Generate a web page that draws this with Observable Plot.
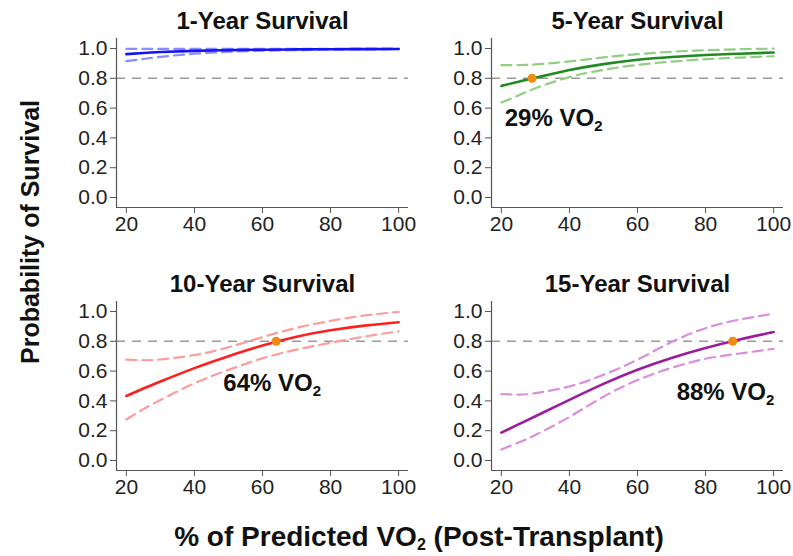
<!DOCTYPE html>
<html>
<head>
<meta charset="utf-8">
<script src="https://cdn.jsdelivr.net/npm/d3@7"></script>
<script src="https://cdn.jsdelivr.net/npm/@observablehq/plot@0.6"></script>
<style>
  body { margin: 0; background: #fff; }
  #fig { position: relative; width: 793px; height: 556px; background: #fff; font-family: "Liberation Sans", Arial, Helvetica, sans-serif; overflow: hidden; }
  #fig .panel { position: absolute; }
  #ylab { position: absolute; left: 30px; top: 232px; transform: translate(-50%, -50%) rotate(-90deg); font-weight: bold; font-size: 25px; white-space: nowrap; color: #111; }
  #xlab { position: absolute; left: 419px; top: 537px; transform: translate(-50%, -50%); font-weight: bold; font-size: 28px; line-height: 30px; white-space: nowrap; color: #111; }
  #xlab sub { font-size: 16px; vertical-align: -4px; line-height: 0; }
</style>
</head>
<body>
<div id="fig">
  <div id="ylab">Probability of Survival</div>
  <div id="xlab">% of Predicted VO<sub>2</sub> (Post-Transplant)</div>
</div>
<script>
// ---- data ----
const vo2 = [20, 25, 30, 40, 50, 60, 70, 80, 90, 100];
const xTicks = [20, 40, 60, 80, 100];
const yTicks = [0, 0.2, 0.4, 0.6, 0.8, 1.0];
const threshold = 0.8;

const titles = ["1-Year Survival", "5-Year Survival", "10-Year Survival", "15-Year Survival"];

const fit1 = [0.962, 0.970, 0.976, 0.984, 0.989, 0.992, 0.994, 0.995, 0.996, 0.997];
const hi1  = [0.997, 0.997, 0.997, 0.997, 0.998, 0.998, 0.998, 0.998, 0.999, 0.999];
const lo1  = [0.915, 0.930, 0.944, 0.965, 0.978, 0.985, 0.989, 0.992, 0.994, 0.995];

const fit5 = [0.749, 0.777, 0.803, 0.855, 0.895, 0.924, 0.943, 0.956, 0.965, 0.973];
const hi5  = [0.888, 0.889, 0.893, 0.913, 0.940, 0.962, 0.978, 0.988, 0.995, 0.999];
const lo5  = [0.638, 0.685, 0.733, 0.808, 0.857, 0.890, 0.912, 0.928, 0.939, 0.948];

const fit10 = [0.433, 0.483, 0.530, 0.620, 0.700, 0.772, 0.831, 0.874, 0.905, 0.928];
const hi10  = [0.677, 0.673, 0.678, 0.708, 0.760, 0.828, 0.890, 0.937, 0.973, 0.997];
const lo10  = [0.275, 0.345, 0.406, 0.518, 0.608, 0.686, 0.744, 0.790, 0.832, 0.867];

const fit15 = [0.187, 0.242, 0.297, 0.407, 0.514, 0.609, 0.688, 0.755, 0.812, 0.862];
const hi15  = [0.446, 0.442, 0.452, 0.497, 0.575, 0.677, 0.795, 0.888, 0.946, 0.985];
const lo15  = [0.074, 0.120, 0.171, 0.293, 0.428, 0.540, 0.621, 0.683, 0.718, 0.750];

const cutoffs = [null, 29, 64, 88];
const cutoffLabels = [null, "29% VO2", "64% VO2", "88% VO2"];
const labelX = [null, 21, 48.5, 71.5];
const labelY = [null, 0.53, 0.52, 0.46];

// ---- styling ----
const mainColors  = ["#1414f5", "#1f8c22", "#ff1f1f", "#9b1c9f"];
const lightColors = ["#8c8cff", "#90cf82", "#ff9b9b", "#da8fdc"];
const dotColor = "#f08a10";
const xDomain = [17.1, 102.9];
const yDomain = [-0.067, 1.067];

const series = [[fit1, lo1, hi1], [fit5, lo5, hi5], [fit10, lo10, hi10], [fit15, lo15, hi15]];
const positions = [[60, 0], [435, 0], [60, 263], [435, 263]];

function panel(i) {
  const [fit, lo, hi] = series[i];
  const rows = vo2.map((x, k) => ({x, fit: fit[k], lo: lo[k], hi: hi[k]}));
  const marks = [
    Plot.ruleY([threshold], {stroke: "#9a9a9a", strokeWidth: 1.4, strokeDasharray: "9,7"}),
    Plot.lineY(rows, {x: "x", y: "hi", stroke: lightColors[i], strokeWidth: 2.2, strokeDasharray: "10,6", curve: "natural"}),
    Plot.lineY(rows, {x: "x", y: "lo", stroke: lightColors[i], strokeWidth: 2.2, strokeDasharray: "10,6", curve: "natural"}),
    Plot.lineY(rows, {x: "x", y: "fit", stroke: mainColors[i], strokeWidth: 2.6, curve: "natural"}),
    Plot.ruleX([xDomain[0]], {stroke: "#555", strokeWidth: 1.2}),
    Plot.ruleY([yDomain[0]], {stroke: "#555", strokeWidth: 1.2}),
    Plot.axisX({ticks: xTicks, tickSize: 6, tickPadding: 3, stroke: "#555", label: null, fontSize: 21}),
    Plot.axisY({ticks: yTicks, tickSize: 6, tickPadding: 3, stroke: "#555", tickFormat: d3.format(".1f"), label: null, fontSize: 21}),
    Plot.text([titles[i]], {frameAnchor: "top", dy: -17, lineAnchor: "middle", fontWeight: "bold", fontSize: 24, fill: "#111"})
  ];
  if (cutoffs[i] != null) {
    marks.push(Plot.dot([{x: cutoffs[i], y: threshold}], {x: "x", y: "y", r: 4.5, fill: dotColor, stroke: "none"}));
    marks.push(Plot.text([{x: labelX[i], y: labelY[i], t: cutoffLabels[i]}], {x: "x", y: "y", text: "t", textAnchor: "start", fontWeight: "bold", fontSize: 24, fill: "#111"}));
  }
  const svg = Plot.plot({
    width: 355, height: 240,
    marginLeft: 56, marginRight: 7, marginTop: 38, marginBottom: 33,
    x: {domain: xDomain},
    y: {domain: yDomain},
    style: {fontFamily: "'Liberation Sans', Arial, Helvetica, sans-serif", fontSize: "21px", color: "#222", background: "transparent", overflow: "visible"},
    marks
  });
  // subscript the trailing "2" of "VO2"
  svg.querySelectorAll("text").forEach(t => {
    if (/VO2$/.test(t.textContent) && t.children.length === 0) {
      const s = t.textContent;
      t.textContent = s.slice(0, -1);
      const ts = document.createElementNS("http://www.w3.org/2000/svg", "tspan");
      ts.setAttribute("dy", "0.35em");
      ts.setAttribute("font-size", "15");
      ts.textContent = "2";
      t.appendChild(ts);
    }
  });
  svg.classList.add("panel");
  svg.style.left = positions[i][0] + "px";
  svg.style.top = positions[i][1] + "px";
  return svg;
}

const fig = document.getElementById("fig");
for (let i = 0; i < 4; i++) fig.appendChild(panel(i));
</script>
</body>
</html>
